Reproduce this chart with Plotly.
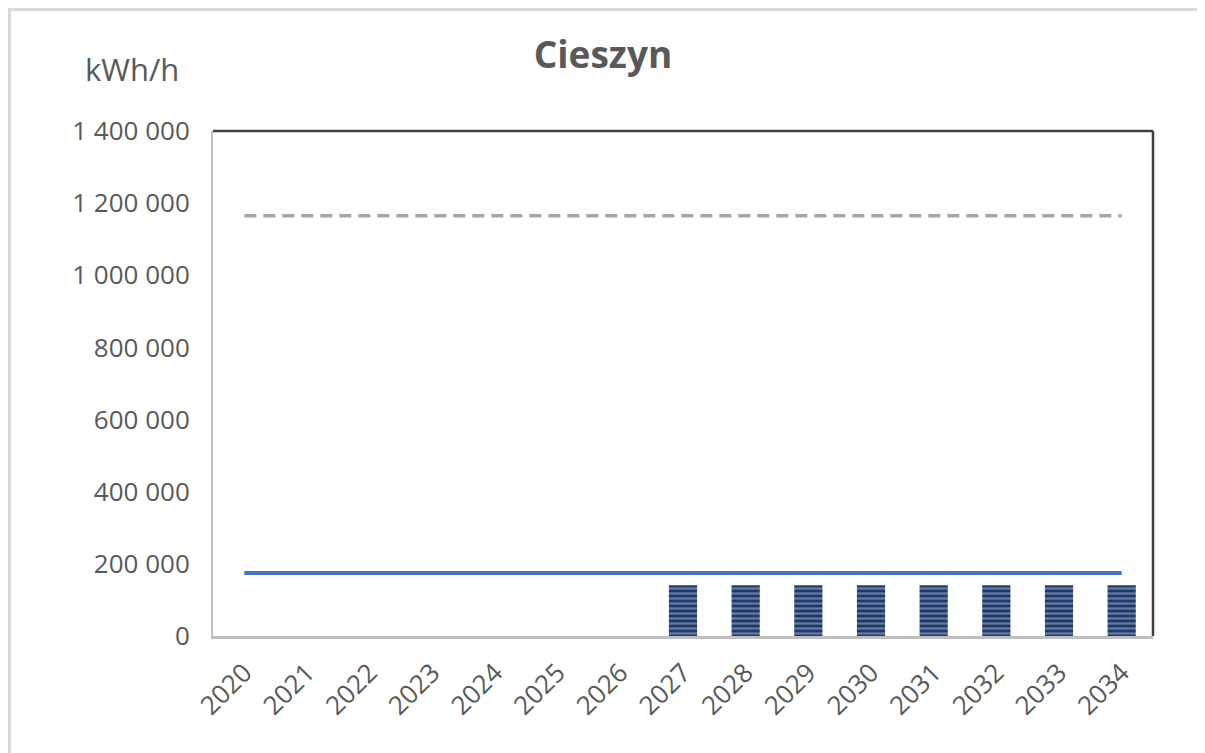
import plotly.graph_objects as go

years = [str(y) for y in range(2020, 2035)]
bar_years = [str(y) for y in range(2027, 2035)]
bar_values = [141000] * 8
blue_line = [175000] * 15
dashed_line = [1165000] * 15
ytick_vals = [0, 200000, 400000, 600000, 800000, 1000000, 1200000, 1400000]
ytick_text = ["0", "200 000", "400 000", "600 000", "800 000", "1 000 000", "1 200 000", "1 400 000"]

FONT = "Open Sans"
GREY = "#595959"

# page body has an 8px margin, so the figure starts at (8, 8)
OFF = 8
W, H = 1205 - OFF, 753 - OFF
L, T = 213 - OFF, 131 - OFF
R = W - (1153 - OFF)
B = H - (636 - OFF)
pw, ph = W - L - R, H - T - B


def px(x):
    return (x - OFF - L) / pw


def py(y):
    return (H - B - (y - OFF)) / ph


fig = go.Figure()
fig.add_trace(go.Bar(
    x=bar_years, y=bar_values, width=0.45,
    marker=dict(color="#1F3864", line=dict(width=0),
                pattern=dict(shape="-", fgcolor="#A9BEE6", bgcolor="#1F3864",
                             size=5, solidity=0.45)),
    showlegend=False,
))
fig.add_trace(go.Scatter(
    x=years, y=blue_line, mode="lines",
    line=dict(color="#4472C4", width=4), showlegend=False,
))
fig.add_trace(go.Scatter(
    x=years, y=dashed_line, mode="lines",
    line=dict(color="#A6A6A6", width=3.5, dash="12px,7px"), showlegend=False,
))

shapes = [
    dict(type="line", xref="paper", yref="paper", x0=0, x1=1, y0=1, y1=1,
         line=dict(color="#404040", width=2.5)),
    dict(type="line", xref="paper", yref="paper", x0=1, x1=1, y0=0, y1=1,
         line=dict(color="#404040", width=2.5)),
    dict(type="rect", xref="paper", yref="paper", x0=px(OFF + 1.5), x1=px(1201.5),
         y0=py(770), y1=py(OFF + 1.5), line=dict(color="#D9D9D9", width=3)),
]

fig.update_layout(
    width=W, height=H,
    margin=dict(l=L, r=R, t=T, b=B),
    paper_bgcolor="white", plot_bgcolor="white",
    font=dict(family=FONT, color=GREY, size=26),
    title=dict(text="<b>Cieszyn</b>", xref="container", yref="container",
               x=(603 - OFF) / W, xanchor="center",
               y=1 - (55 - OFF) / H, yanchor="middle",
               font=dict(family=FONT, size=37, color=GREY)),
    shapes=shapes,
    annotations=[dict(text="kWh/h", xref="paper", yref="paper",
                      x=px(132), y=py(69), xanchor="center", yanchor="middle",
                      showarrow=False, font=dict(family=FONT, size=31, color=GREY))],
)
fig.update_xaxes(type="category", categoryorder="array", categoryarray=years,
                 range=[-0.5, len(years) - 0.5],
                 tickangle=-45, showgrid=False,
                 showline=True, linecolor="#BFBFBF", linewidth=3,
                 ticks="", ticklabelstandoff=8, tickfont=dict(size=26, color=GREY))
fig.update_yaxes(range=[0, 1400000], tickvals=ytick_vals, ticktext=ytick_text,
                 showgrid=False, zeroline=False,
                 showline=True, linecolor="#BFBFBF", linewidth=2,
                 ticks="", ticklabelstandoff=16, tickfont=dict(size=26, color=GREY))

fig.write_html("out.html")
